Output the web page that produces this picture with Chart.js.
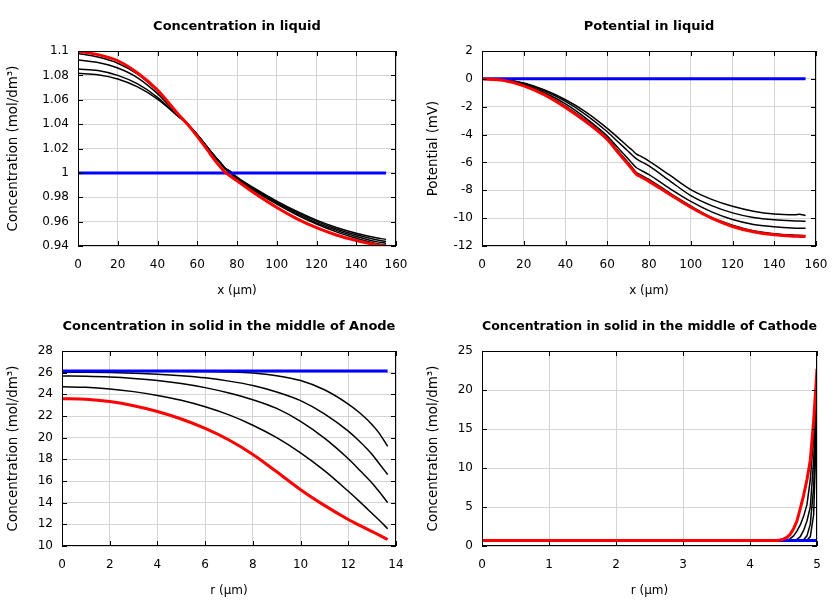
<!DOCTYPE html>
<html>
<head>
<meta charset="utf-8">
<script src="https://cdn.jsdelivr.net/npm/chart.js@4.4.0/dist/chart.umd.min.js"></script>
<style>
  html, body { margin: 0; padding: 0; background: #ffffff; }
  #wrap { position: relative; width: 840px; height: 600px; }
  canvas { position: absolute; }
</style>
</head>
<body>
<div id="wrap">
  <canvas id="c1" width="420" height="300" style="left:0px;top:0px"></canvas>
  <canvas id="c2" width="420" height="300" style="left:420px;top:0px"></canvas>
  <canvas id="c3" width="420" height="300" style="left:0px;top:300px"></canvas>
  <canvas id="c4" width="420" height="300" style="left:420px;top:300px"></canvas>
</div>
<script>
// ---------- Plot 1: Concentration in liquid ----------
const liquidX = [0, 10, 20, 30, 40, 50, 55, 60, 65, 70, 72, 74, 76, 80, 90, 100, 110, 120, 130, 140, 150, 155];
const concLiqRed = [1.0997, 1.097, 1.092, 1.082, 1.068, 1.049, 1.040, 1.030, 1.019, 1.008, 1.0042, 1.0005, 0.9981, 0.9935, 0.982, 0.9716, 0.9625, 0.955, 0.949, 0.9445, 0.9410, 0.9400];
const concLiqA = [1.098, 1.095, 1.090, 1.081, 1.067, 1.049, 1.0407, 1.0314, 1.0213, 1.011, 1.0072, 1.0032, 1.0008, 0.995, 0.984, 0.9743, 0.9656, 0.958, 0.9516, 0.9464, 0.9420, 0.9406];
const concLiqB = [1.0926, 1.0905, 1.086, 1.078, 1.065, 1.048, 1.0405, 1.0313, 1.0213, 1.0112, 1.0074, 1.0035, 1.0012, 0.9955, 0.9848, 0.9752, 0.9666, 0.959, 0.9528, 0.9478, 0.9436, 0.9421];
const concLiqC = [1.0852, 1.084, 1.080, 1.073, 1.062, 1.047, 1.0403, 1.0312, 1.0212, 1.0113, 1.0076, 1.0038, 1.0016, 0.996, 0.9855, 0.976, 0.9676, 0.9602, 0.954, 0.9492, 0.9452, 0.9437];
const concLiqD = [1.0817, 1.0805, 1.077, 1.0705, 1.0605, 1.047, 1.040, 1.031, 1.021, 1.0115, 1.0078, 1.004, 1.002, 0.9965, 0.9862, 0.9768, 0.9685, 0.9612, 0.9552, 0.9505, 0.9468, 0.9454];
const liquidBlueX = [0, 155];
const concLiqBlue = [1.0, 1.0];

// ---------- Plot 2: Potential in liquid ----------
const potX = [0, 10, 20, 30, 40, 50, 60, 65, 70, 72, 74, 76, 80, 90, 100, 110, 120, 130, 140, 150, 152, 155];
const potRed = [0, -0.1, -0.5, -1.15, -2.05, -3.1, -4.35, -5.25, -6.14, -6.5, -6.85, -7.02, -7.36, -8.3, -9.22, -10.0, -10.6, -10.98, -11.2, -11.3, -11.31, -11.32];
const potP1 = [0, -0.05, -0.3, -0.8, -1.5, -2.4, -3.55, -4.2, -4.87, -5.13, -5.4, -5.55, -5.9, -6.92, -7.95, -8.65, -9.15, -9.5, -9.7, -9.75, -9.72, -9.82];
const potP2 = [0, -0.06, -0.33, -0.88, -1.62, -2.6, -3.8, -4.5, -5.2, -5.48, -5.75, -5.92, -6.25, -7.33, -8.38, -9.1, -9.62, -9.95, -10.12, -10.2, -10.21, -10.22];
const potP3 = [0, -0.08, -0.4, -1.0, -1.8, -2.85, -4.1, -4.92, -5.74, -6.07, -6.38, -6.55, -6.88, -7.88, -8.8, -9.55, -10.1, -10.45, -10.62, -10.72, -10.72, -10.73];
const potP4 = [0, -0.09, -0.45, -1.1, -1.95, -3.0, -4.25, -5.13, -6.0, -6.37, -6.72, -6.89, -7.22, -8.2, -9.12, -9.95, -10.5, -10.9, -11.12, -11.22, -11.23, -11.25];
const potBlueX = [0, 155];
const potBlue = [0, 0];

// ---------- Plot 3: Concentration in solid, Anode ----------
const anodeR = [0, 1, 2, 3, 4, 5, 6, 7, 8, 9, 10, 11, 12, 12.5, 13, 13.3, 13.65];
const anodeRed = [23.6, 23.55, 23.33, 22.95, 22.42, 21.72, 20.85, 19.78, 18.45, 16.85, 15.2, 13.75, 12.45, 11.88, 11.33, 11.0, 10.6];
const anodeT1 = [26.13, 26.13, 26.13, 26.13, 26.13, 26.12, 26.11, 26.07, 25.97, 25.72, 25.27, 24.42, 23.1, 22.25, 21.2, 20.4, 19.2];
const anodeT2 = [26.05, 26.04, 26.01, 25.95, 25.86, 25.72, 25.52, 25.22, 24.82, 24.22, 23.42, 22.2, 20.6, 19.6, 18.45, 17.6, 16.6];
const anodeT3 = [25.7, 25.67, 25.6, 25.47, 25.28, 25.0, 24.62, 24.12, 23.5, 22.7, 21.5, 19.95, 18.05, 16.95, 15.8, 15.0, 14.0];
const anodeT4 = [24.7, 24.65, 24.5, 24.25, 23.9, 23.45, 22.85, 22.1, 21.15, 20.0, 18.6, 16.95, 15.05, 14.05, 13.0, 12.37, 11.6];
const anodeBlueR = [0, 13.65];
const anodeBlue = [26.15, 26.15];

// ---------- Plot 4: Concentration in solid, Cathode ----------
const cathR = [0, 4.4, 4.45, 4.5, 4.55, 4.6, 4.65, 4.7, 4.75, 4.8, 4.85, 4.9, 4.95, 5.0];
const cathRed = [0.7, 0.72, 0.78, 0.88, 1.1, 1.5, 2.2, 3.2, 4.8, 6.5, 8.5, 11.0, 16.0, 22.7];
const cathK4 = [0.7, 0.7, 0.7, 0.7, 0.72, 0.95, 1.3, 1.9, 2.7, 3.8, 5.3, 8.5, 14.0, 21.5];
const cathK3 = [0.7, 0.7, 0.7, 0.7, 0.7, 0.7, 0.72, 0.85, 1.2, 2.0, 3.2, 5.0, 11.0, 20.5];
const cathK2 = [0.7, 0.7, 0.7, 0.7, 0.7, 0.7, 0.7, 0.7, 0.72, 0.8, 1.3, 2.8, 7.5, 19.5];
const cathK1 = [0.7, 0.7, 0.7, 0.7, 0.7, 0.7, 0.7, 0.7, 0.7, 0.7, 0.75, 1.2, 4.0, 17.5];
const cathBlueR = [0, 5];
const cathBlue = [0.7, 0.7];

// ---------- Titles / labels ----------
const titles = ['Concentration in liquid', 'Potential in liquid',
  'Concentration in solid in the middle of Anode', 'Concentration in solid in the middle of Cathode'];
const xLabels = ['x (\u00b5m)', 'x (\u00b5m)', 'r (\u00b5m)', 'r (\u00b5m)'];
const yLabels = ['Concentration (mol/dm\u00b3)', 'Potential (mV)', 'Concentration (mol/dm\u00b3)', 'Concentration (mol/dm\u00b3)'];

const FONT = 'DejaVu Sans';

const frameTicks = {
  id: 'frameTicks',
  afterDatasetsDraw(chart) {
    const { ctx, chartArea: a, scales: { x, y } } = chart;
    ctx.save();
    ctx.strokeStyle = '#000';
    ctx.lineWidth = 1;
    ctx.beginPath();
    x.ticks.forEach(t => {
      const p = Math.round(x.getPixelForValue(t.value)) + 0.5;
      ctx.moveTo(p, a.bottom); ctx.lineTo(p, a.bottom - 5);
      ctx.moveTo(p, a.top); ctx.lineTo(p, a.top + 5);
    });
    y.ticks.forEach(t => {
      const p = Math.round(y.getPixelForValue(t.value)) + 0.5;
      ctx.moveTo(a.left, p); ctx.lineTo(a.left + 5, p);
      ctx.moveTo(a.right, p); ctx.lineTo(a.right - 5, p);
    });
    ctx.stroke();
    ctx.strokeRect(a.left + 0.5, a.top + 0.5, a.right - a.left - 1, a.bottom - a.top - 1);
    ctx.restore();
  }
};

function pts(xs, ys) { return xs.map((v, i) => ({ x: v, y: ys[i] })); }

function line(xs, ys, color, width, smooth) {
  return {
    data: pts(xs, ys), borderColor: color, borderWidth: width,
    pointRadius: 0, fill: false,
    cubicInterpolationMode: smooth ? 'monotone' : 'default', tension: 0
  };
}

function fmt(v) { return String(Number(v.toFixed(6))); }

function makeChart(id, title, xl, yl, datasets, xr, yr, yWidth, rightPad) {
  new Chart(document.getElementById(id), {
    type: 'line',
    data: { datasets },
    options: {
      responsive: false, animation: false,
      layout: { padding: { left: 0, right: rightPad, top: 0, bottom: 0 } },
      plugins: {
        legend: { display: false }, tooltip: { enabled: false },
        title: {
          display: true, text: title, color: '#000', fullSize: false,
          font: { family: FONT, size: 13, weight: 'bold', lineHeight: 1.2 },
          padding: { top: 19, bottom: 16.4 }
        }
      },
      scales: {
        x: {
          type: 'linear', min: xr[0], max: xr[1],
          ticks: { stepSize: xr[2], color: '#000', padding: 12, maxRotation: 0,
            font: { family: FONT, size: 12 }, callback: fmt },
          grid: { color: '#d4d4d4', drawTicks: false, lineWidth: 1 },
          border: { display: false },
          title: { display: true, text: xl, color: '#000',
            font: { family: FONT, size: 12, lineHeight: 1.2 }, padding: { top: 0, bottom: 2 } },
          afterFit: s => { s.height = 54; }
        },
        y: {
          type: 'linear', min: yr[0], max: yr[1],
          ticks: { stepSize: yr[2], color: '#000', padding: 9,
            font: { family: FONT, size: 12 }, callback: fmt },
          grid: { color: '#d4d4d4', drawTicks: false, lineWidth: 1 },
          border: { display: false },
          title: { display: true, text: yl, color: '#000',
            font: { family: FONT, size: 13.4, lineHeight: 1.2 }, padding: { top: 5.2, bottom: 0 } },
          afterFit: s => { s.width = yWidth; }
        }
      }
    },
    plugins: [frameTicks]
  });
}

makeChart('c1', titles[0], xLabels[0], yLabels[0], [
  line(liquidX, concLiqRed, '#ff0000', 3, true),
  line(liquidBlueX, concLiqBlue, '#0000ff', 3, false),
  line(liquidX, concLiqA, '#000000', 1.5, true),
  line(liquidX, concLiqB, '#000000', 1.5, true),
  line(liquidX, concLiqC, '#000000', 1.5, true),
  line(liquidX, concLiqD, '#000000', 1.5, true)
], [0, 160, 20], [0.94, 1.1, 0.02], 78, 24);

makeChart('c2', titles[1], xLabels[1], yLabels[1], [
  line(potX, potRed, '#ff0000', 3, true),
  line(potBlueX, potBlue, '#0000ff', 3, false),
  line(potX, potP1, '#000000', 1.5, true),
  line(potX, potP2, '#000000', 1.5, true),
  line(potX, potP3, '#000000', 1.5, true),
  line(potX, potP4, '#000000', 1.5, true)
], [0, 160, 20], [-12, 2, 2], 62, 24);

makeChart('c3', titles[2], xLabels[2], yLabels[2], [
  line(anodeR, anodeRed, '#ff0000', 3, true),
  line(anodeBlueR, anodeBlue, '#0000ff', 3, false),
  line(anodeR, anodeT1, '#000000', 1.5, true),
  line(anodeR, anodeT2, '#000000', 1.5, true),
  line(anodeR, anodeT3, '#000000', 1.5, true),
  line(anodeR, anodeT4, '#000000', 1.5, true)
], [0, 14, 2], [10, 28, 2], 62, 24);

makeChart('c4', titles[3], xLabels[3], yLabels[3], [
  line(cathR, cathRed, '#ff0000', 3, false),
  line(cathBlueR, cathBlue, '#0000ff', 3, false),
  line(cathR, cathK1, '#000000', 1.5, false),
  line(cathR, cathK2, '#000000', 1.5, false),
  line(cathR, cathK3, '#000000', 1.5, false),
  line(cathR, cathK4, '#000000', 1.5, false)
], [0, 5, 1], [0, 25, 5], 62, 23);
</script>
</body>
</html>
